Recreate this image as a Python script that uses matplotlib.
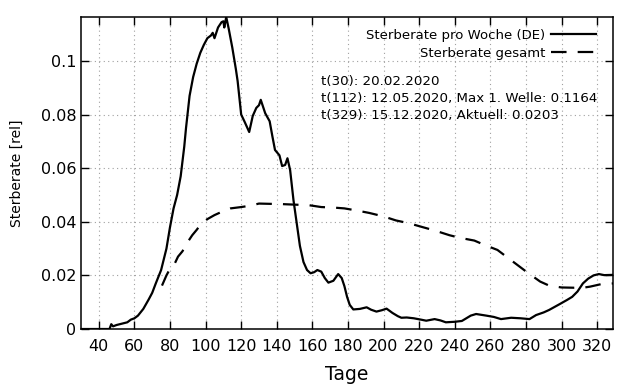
import numpy as np
import matplotlib
matplotlib.use("Agg")
import matplotlib.pyplot as plt

# weekly death rate (solid)
tage_woche = [30, 45, 46, 47, 48, 50, 53, 56, 58, 60, 62, 65, 68, 70, 72, 75, 78, 80, 82, 84,
              86, 88, 89, 91, 93, 95, 97, 99, 101, 103, 104, 105, 107, 109, 110, 110.5, 111.6,
              113, 115, 117, 118, 120, 122, 124.5, 126.5, 128.5, 130, 131, 132, 133.5, 136,
              137.5, 139, 141.5, 143, 144.7, 146, 147.5, 149.4, 151.2, 153, 155, 157, 159, 161,
              162.8, 165, 167, 169, 171.8, 174.5, 176.5, 178, 179.5, 181, 183, 186.7, 190.5,
              193, 196, 199, 201.7, 205, 208, 210, 213, 217, 221, 224, 228.7, 232, 235, 240,
              244, 246.5, 249, 252, 257.7, 262, 266, 271.7, 277, 282, 285.7, 290, 293, 299,
              303, 306, 309, 312, 315, 318, 321, 324, 329]
rate_woche = [0, 0, 0, 0.0018, 0.001, 0.0015, 0.002, 0.0025, 0.0035, 0.004, 0.005, 0.0075,
              0.011, 0.0135, 0.017, 0.022, 0.03, 0.038, 0.045, 0.05, 0.057, 0.068, 0.075, 0.087,
              0.094, 0.099, 0.103, 0.106, 0.1085, 0.1095, 0.1105, 0.1085, 0.1125, 0.1145,
              0.1148, 0.1125, 0.1164, 0.112, 0.105, 0.097, 0.0925, 0.08, 0.0772, 0.0735,
              0.0795, 0.0825, 0.0835, 0.0855, 0.0835, 0.0805, 0.0775, 0.072, 0.0668, 0.0648,
              0.0608, 0.0612, 0.0637, 0.0593, 0.048, 0.0395, 0.031, 0.025, 0.022, 0.0208,
              0.0212, 0.022, 0.0214, 0.019, 0.0173, 0.018, 0.0205, 0.019, 0.016, 0.012, 0.009,
              0.0073, 0.0075, 0.0081, 0.0072, 0.0065, 0.007, 0.0076, 0.006, 0.0048, 0.0042,
              0.0043, 0.004, 0.0035, 0.0031, 0.0037, 0.0032, 0.0025, 0.0027, 0.003, 0.004,
              0.005, 0.0056, 0.005, 0.0045, 0.0037, 0.0042, 0.004, 0.0037, 0.0052, 0.0062,
              0.0071, 0.0093, 0.0108, 0.012, 0.014, 0.017, 0.0188, 0.02, 0.0205, 0.0201, 0.0202]

# overall death rate (dashed)
tage_gesamt = [75.5, 78, 80, 82, 84.5, 87, 89, 92.5, 95, 97, 101, 105, 110, 114, 120, 125, 130,
               136, 143, 150, 158, 165, 172, 178, 185, 192, 200, 207, 214, 222, 229, 237, 243,
               251, 257, 264, 269, 276, 281, 288, 293, 300, 307, 313, 316, 322, 329]
rate_gesamt = [0.0162, 0.02, 0.0225, 0.0235, 0.027, 0.029, 0.0315, 0.035, 0.037, 0.0388, 0.041,
               0.0425, 0.044, 0.045, 0.0455, 0.046, 0.0468, 0.0467, 0.0466, 0.0464, 0.0462,
               0.0455, 0.0453, 0.045, 0.0442, 0.0433, 0.042, 0.0405, 0.0395, 0.038, 0.0367,
               0.035, 0.034, 0.033, 0.0313, 0.0295, 0.027, 0.0235, 0.021, 0.0177, 0.0162,
               0.0155, 0.0154, 0.0155, 0.0158, 0.0167, 0.017]

info_lines = ["t(30): 20.02.2020",
              "t(112): 12.05.2020, Max 1. Welle: 0.1164",
              "t(329): 15.12.2020, Aktuell: 0.0203"]

fig = plt.figure(figsize=(6.4, 3.84), dpi=100)
ax = fig.add_axes([0.1266, 0.1432, 0.8314, 0.8125])

ax.plot(tage_woche, rate_woche, color="black", lw=1.6, label="Sterberate pro Woche (DE)")
ax.plot(tage_gesamt, rate_gesamt, color="black", lw=1.6, linestyle=(0, (7, 5)),
        label="Sterberate gesamt")

ax.set_xlim(30, 329)
ax.set_ylim(0, 0.1164)
ax.set_xticks(np.arange(40, 321, 20))
ax.set_yticks([0, 0.02, 0.04, 0.06, 0.08, 0.1])
ax.set_yticklabels(["0", "0.02", "0.04", "0.06", "0.08", "0.1"])
ax.tick_params(direction="in", top=True, right=True, length=6, width=1, labelsize=11.5)
ax.tick_params(axis="x", pad=7)
ax.grid(True, color="#a0a0a0", linestyle=(0, (1, 3)), lw=0.8)
for s in ax.spines.values():
    s.set_linewidth(1.1)

ax.set_xlabel("Tage", fontsize=13.5, labelpad=8)
ax.set_ylabel("Sterberate [rel]", fontsize=10, labelpad=12)

ax.legend(loc="upper right", frameon=False, markerfirst=False, fontsize=9.5,
          handlelength=3.4, borderaxespad=0.5, labelspacing=0.35, handletextpad=0.45,
          bbox_to_anchor=(0.99, 1.0))

ax.text(164.8, 0.0948, "\n".join(info_lines), fontsize=9.6, va="top", ha="left",
        linespacing=1.4)

fig.savefig("out.png", dpi=100)
